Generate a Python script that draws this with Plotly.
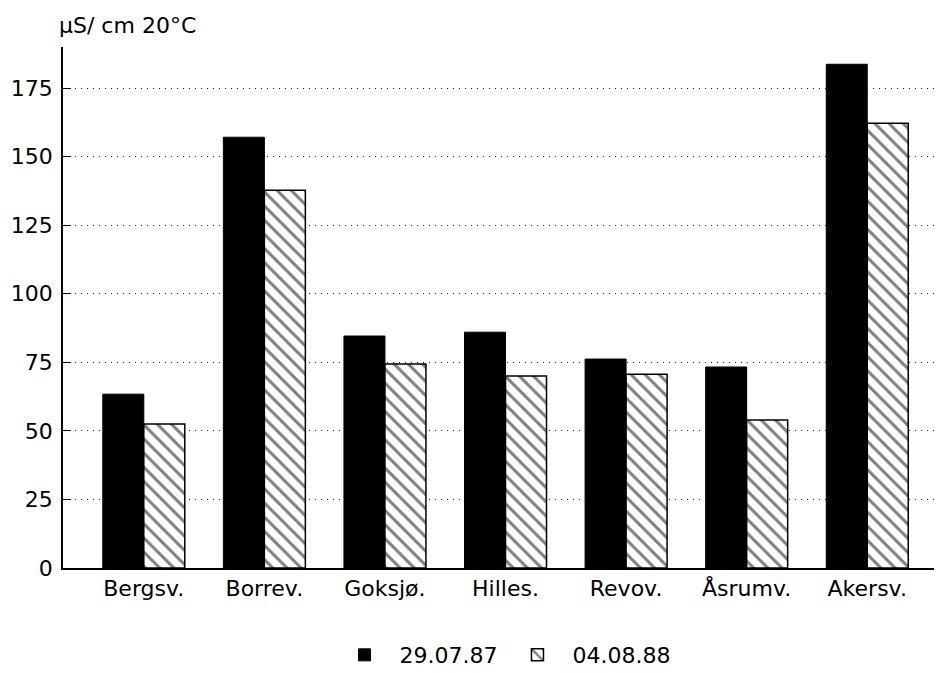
"""Conductivity bar chart: two sampling dates per lake, solid vs hatched bars."""

import plotly.graph_objects as go

LAKES = ["Bergsv.", "Borrev.", "Goksjø.", "Hilles.", "Revov.", "Åsrumv.", "Akersv."]
COND_1987 = [63.4, 157.1, 84.6, 86.0, 76.2, 73.3, 183.7]
COND_1988 = [52.5, 137.8, 74.4, 70.0, 70.7, 54.0, 162.2]
Y_TICKS = [0, 25, 50, 75, 100, 125, 150, 175]

FONT = "DejaVu Sans, Liberation Sans, sans-serif"

fig = go.Figure()
fig.add_trace(
    go.Bar(
        x=LAKES,
        y=COND_1987,
        name="29.07.87",
        marker=dict(color="black", line=dict(color="black", width=1)),
    )
)
fig.add_trace(
    go.Bar(
        x=LAKES,
        y=COND_1988,
        name="04.08.88",
        marker=dict(
            color="white",
            line=dict(color="black", width=1.5),
            pattern=dict(shape="\\", fgcolor="black", bgcolor="white", size=10, solidity=0.3),
        ),
    )
)

# page body has an 8px margin, so the figure is sized/placed to compensate
fig.update_layout(
    width=934,
    height=665,
    plot_bgcolor="white",
    paper_bgcolor="white",
    font=dict(family=FONT, size=22, color="black"),
    barmode="group",
    bargap=0.32,
    bargroupgap=0,
    margin=dict(l=55, r=0, t=39, b=105),
    legend=dict(
        orientation="h",
        x=0.5,
        xanchor="center",
        yref="container",
        y=0.027,
        yanchor="middle",
        font=dict(size=22),
        itemwidth=60,
        traceorder="normal",
    ),
    annotations=[
        dict(
            text="μS/ cm 20°C",
            xref="paper",
            yref="paper",
            x=-0.007,
            y=1.0,
            yshift=22,
            xanchor="left",
            yanchor="middle",
            showarrow=False,
            font=dict(size=22),
        )
    ],
)
fig.update_xaxes(
    range=[-0.67, 6.62],
    showline=True,
    linecolor="black",
    linewidth=1.5,
    showgrid=False,
    ticks="",
    tickfont=dict(size=22),
)
fig.update_yaxes(
    range=[0, 190],
    tickvals=Y_TICKS,
    showline=True,
    linecolor="black",
    linewidth=1.5,
    showgrid=True,
    gridcolor="#222",
    gridwidth=1,
    griddash="1px,5px",
    ticks="inside",
    ticklen=8,
    tickcolor="black",
    ticklabelstandoff=4,
    zeroline=False,
    tickfont=dict(size=22),
)

fig.write_html("out.html")
